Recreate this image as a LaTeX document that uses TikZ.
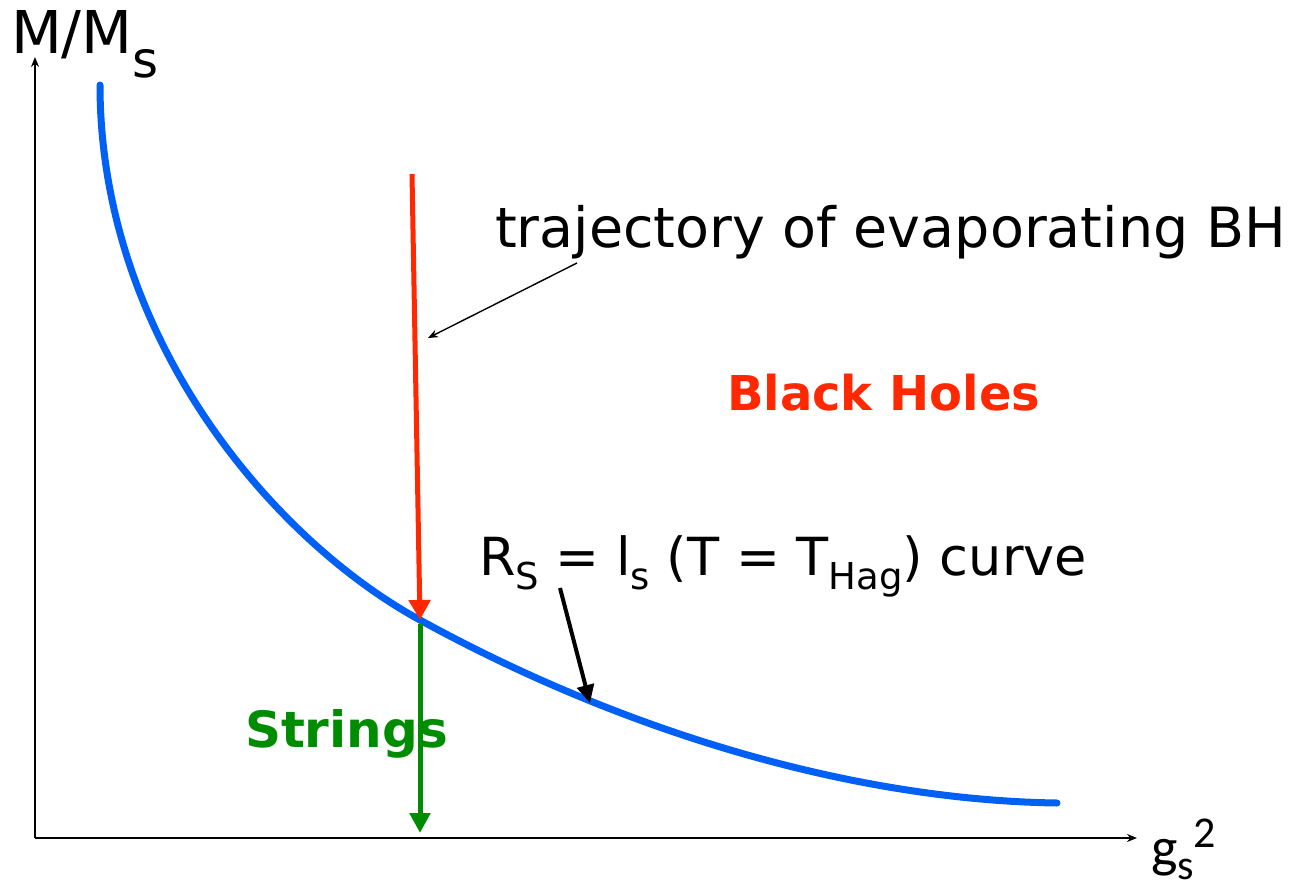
\documentclass[tikz,border=0pt]{standalone}
\usepackage{fontspec}
\setmainfont{DejaVu Sans}
\newfontfamily\axisfont{Carlito}
\usetikzlibrary{arrows.meta}
\definecolor{bhred}{RGB}{255,40,0}
\definecolor{strgreen}{RGB}{0,140,0}
\definecolor{curveblue}{RGB}{0,95,245}
\tikzset{
  axis/.style={line width=1.6pt,-{Stealth[length=10pt,width=8pt]}},
  hagcurve/.style={curveblue,line width=7pt},
  redtraj/.style={bhred,line width=5pt,-{Triangle[length=20pt,width=21pt]}},
  greentraj/.style={strgreen,line width=5pt,-{Triangle[length=20pt,width=20pt]}},
  thinptr/.style={line width=1.4pt,-{Stealth[length=10pt,width=8pt]}},
  thickptr/.style={line width=4pt,-{Triangle[length=18pt,width=17pt]}},
  lbl/.style={anchor=base west,inner sep=0pt,outer sep=0pt},
}
\begin{document}
\begin{tikzpicture}[x=1pt,y=-1pt]
\useasboundingbox (0,0) rectangle (1296,894);
% axes
\coordinate (O) at (35,838);
\coordinate (ytop) at (35,57);
\coordinate (xend) at (1137,838);
\draw[axis] (O) -- (ytop);
\draw[axis] (O) -- (xend);
\node[lbl,font=\fontsize{59}{62}\selectfont] (ylabel) at (11,53) {M/M\raisebox{-24pt}{\fontsize{50}{54}\selectfont s}};
\node[lbl,font=\axisfont\fontsize{56}{60}\selectfont] (xlabel) at (1151,866) {g\raisebox{-13pt}{\fontsize{42}{46}\selectfont s}\raisebox{19pt}{\fontsize{44}{48}\selectfont 2}};
% R_S = l_s curve
\coordinate (c0) at (100,85);
\coordinate (cross) at (420,620);
\coordinate (c1) at (1057,803);
\draw[hagcurve,line cap=round] (c0) .. controls (100,335) and (270,538) .. (cross)
  .. controls (620,730) and (850,800) .. (c1);
% trajectory arrows
\coordinate (rtop) at (412,174);
\coordinate (gbot) at (420,833);
\draw[redtraj] (rtop) -- (cross);
\draw[greentraj,shorten <=4pt] (cross) -- (gbot);
% texts
\node[lbl,font=\fontsize{55.5}{60}\selectfont] (traj) at (495,247) {trajectory of evaporating BH};
\coordinate (tj) at (577,263);
\coordinate (tjend) at (428,338);
\draw[thinptr] (tj) -- (tjend);
\node[lbl,text=bhred,font=\bfseries\fontsize{48}{54}\selectfont] (bh) at (727,410) {Black Holes};
\node[lbl,font=\fontsize{52.5}{60}\selectfont] (rs) at (479,575) {R\raisebox{-14pt}{\fontsize{37}{40}\selectfont S} = l\raisebox{-14pt}{\fontsize{37}{40}\selectfont s} (T = T\raisebox{-14pt}{\fontsize{37}{40}\selectfont Hag}) curve};
\coordinate (rsa) at (560,588);
\coordinate (rsb) at (590,703);
\draw[thickptr] (rsa) -- (rsb);
\node[lbl,text=strgreen,font=\bfseries\fontsize{50}{54}\selectfont] (str) at (245,747) {Strings};
\end{tikzpicture}
\end{document}
